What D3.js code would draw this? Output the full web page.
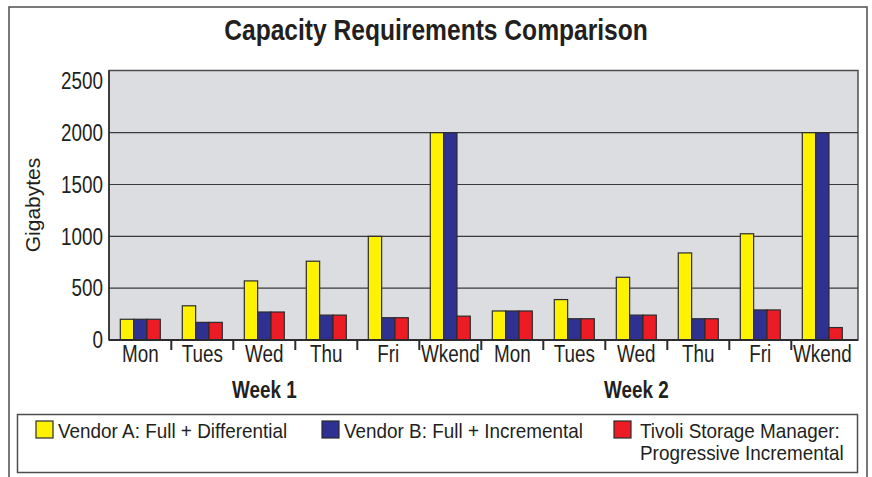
<!DOCTYPE html>
<html>
<head>
<meta charset="utf-8">
<script src="https://cdn.jsdelivr.net/npm/d3@7"></script>
<style>
  html, body { margin: 0; padding: 0; background: #ffffff; }
  svg { display: block; }
  text { font-family: "Liberation Sans", Arimo, Arial, Helvetica, sans-serif; fill: #231f20; }
</style>
</head>
<body>
<svg id="chart" width="872" height="477"></svg>
<script>
// ---- data ----
const title = "Capacity Requirements Comparison";
const yAxisTitle = "Gigabytes";
const days = ["Mon", "Tues", "Wed", "Thu", "Fri", "Wkend"];
const weeks = ["Week 1", "Week 2"];
const seriesNames = ["Vendor A: Full + Differential", "Vendor B: Full + Incremental", "Tivoli Storage Manager:|Progressive Incremental"];
const seriesColors = ["#fff200", "#2e3192", "#ed1c24"];
const vendorA = [200, 330, 570, 760, 1000, 2000, 280, 390, 605, 840, 1025, 2000];
const vendorB = [200, 170, 270, 240, 215, 2000, 280, 205, 240, 205, 290, 2000];
const tivoli  = [200, 170, 270, 240, 215, 230, 280, 205, 240, 205, 290, 120];
const yTicks = [0, 500, 1000, 1500, 2000, 2500];
const gridTicks = [500, 1000, 1500, 2000];

// ---- build table ----
const categories = [];
weeks.forEach(w => days.forEach(d => categories.push({ key: w + "-" + d, day: d, week: w })));
const seriesValues = [vendorA, vendorB, tivoli];
const rows = categories.map((c, i) => ({ key: c.key, day: c.day, week: c.week, values: seriesValues.map(s => s[i]) }));

// condensed-face emulation: horizontal scale about the anchor point
const NARROW = 0.82;
const place = (px, py, f) => `translate(${px},${py}) scale(${f || NARROW},1)`;

// ---- layout ----
const svg = d3.select("#chart");
const plot = { left: 109, right: 858, top: 70.5, bottom: 340 };

// outer frame
svg.append("rect").attr("x", 9).attr("y", 7).attr("width", 858).attr("height", 490)
  .attr("fill", "none").attr("stroke", "#4d4d4f").attr("stroke-width", 1.5);

// title
svg.append("text").attr("transform", place(436, 40)).attr("text-anchor", "middle")
  .style("font-size", "30px").style("font-weight", "bold").text(title);

// scales
const y = d3.scaleLinear().domain([0, 2600]).range([plot.bottom, plot.top]);
const x = d3.scaleBand().domain(rows.map(r => r.key)).range([109.3, 853.3]).paddingInner(0).paddingOuter(0);
const groupW = 40;
const xs = d3.scaleBand().domain(d3.range(seriesNames.length)).range([0, groupW]);

// plot background
svg.append("rect").attr("x", plot.left).attr("y", plot.top)
  .attr("width", plot.right - plot.left).attr("height", plot.bottom - plot.top)
  .attr("fill", "#dcdde0").attr("stroke", "#4d4d4f").attr("stroke-width", 1.5);

// gridlines
svg.append("g").selectAll("line").data(gridTicks).join("line")
  .attr("x1", plot.left).attr("x2", plot.right)
  .attr("y1", d => y(d)).attr("y2", d => y(d))
  .attr("stroke", "#3a3a3c").attr("stroke-width", 1.2);

// y axis labels
svg.append("g").selectAll("text").data(yTicks).join("text")
  .attr("transform", d => place(103, y(d))).attr("dy", "0.36em")
  .attr("text-anchor", "end").style("font-size", "23px").text(d => d);

// y axis title
svg.append("text").attr("transform", "translate(40,205) rotate(-90)")
  .attr("text-anchor", "middle").style("font-size", "21px").text(yAxisTitle);

// bars
const groups = svg.append("g").selectAll("g").data(rows).join("g")
  .attr("transform", d => `translate(${x(d.key) + (x.bandwidth() - groupW) / 2},0)`);
groups.selectAll("rect").data(d => d.values.map((v, i) => ({ v, i }))).join("rect")
  .attr("x", d => xs(d.i)).attr("width", xs.bandwidth())
  .attr("y", d => y(d.v)).attr("height", d => y(0) - y(d.v))
  .attr("fill", d => seriesColors[d.i]).attr("stroke", "#2b2b2d").attr("stroke-width", 1.2);

// axis lines
svg.append("line").attr("x1", plot.left).attr("x2", plot.right)
  .attr("y1", plot.bottom).attr("y2", plot.bottom)
  .attr("stroke", "#2b2b2d").attr("stroke-width", 2);
svg.append("line").attr("x1", plot.left).attr("x2", plot.left)
  .attr("y1", plot.top).attr("y2", plot.bottom)
  .attr("stroke", "#2b2b2d").attr("stroke-width", 1.5);

// category separators (ticks)
svg.append("g").selectAll("line").data(rows.slice(1)).join("line")
  .attr("x1", d => x(d.key)).attr("x2", d => x(d.key))
  .attr("y1", plot.bottom).attr("y2", plot.bottom + 10)
  .attr("stroke", "#2b2b2d").attr("stroke-width", 2);

// category labels
svg.append("g").selectAll("text").data(rows).join("text")
  .attr("transform", d => place(x(d.key) + x.bandwidth() / 2, 362))
  .attr("text-anchor", "middle").style("font-size", "23px").text(d => d.day);

// week labels (centred under the Wed of each week)
svg.append("g").selectAll("text").data(weeks).join("text")
  .attr("transform", w => place(x(w + "-Wed") + x.bandwidth() / 2, 398))
  .attr("text-anchor", "middle").style("font-size", "23px").style("font-weight", "bold").text(w => w);

// legend
svg.append("rect").attr("x", 17.5).attr("y", 414.5).attr("width", 840).attr("height", 58)
  .attr("fill", "#ffffff").attr("stroke", "#4d4d4f").attr("stroke-width", 1.5);
const legendX = [36, 322, 614];
const leg = svg.append("g").selectAll("g").data(seriesNames).join("g")
  .attr("transform", (d, i) => `translate(${legendX[i]},421)`);
leg.append("rect").attr("width", 17).attr("height", 17)
  .attr("fill", (d, i) => seriesColors[i]).attr("stroke", "#2b2b2d").attr("stroke-width", 1.2);
leg.each(function (d, i) {
  const g = d3.select(this);
  d.split("|").forEach((ln, k) => {
    g.append("text").attr("transform", place(i === 2 ? 26 : 22, 17 + k * 22, 0.9))
      .style("font-size", "21px").text(ln);
  });
});
</script>
</body>
</html>
